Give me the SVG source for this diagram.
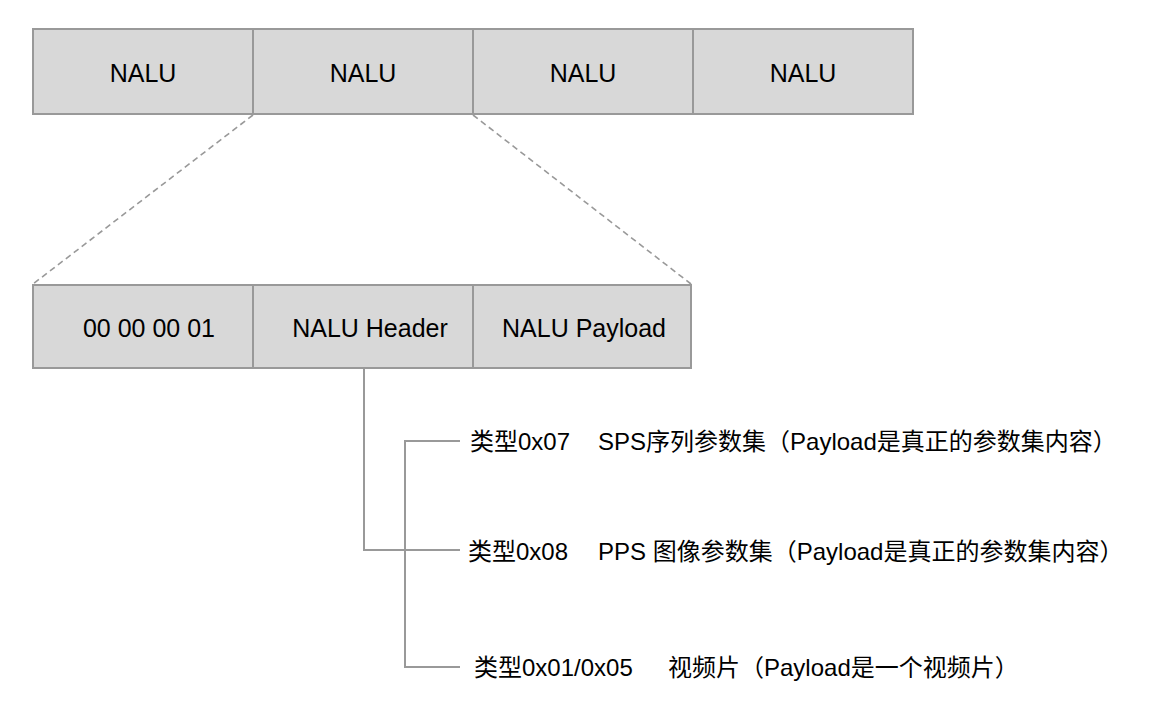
<svg xmlns="http://www.w3.org/2000/svg" width="1162" height="720" viewBox="0 0 1162 720">
<style>
.box{fill:#d8d8d8;stroke:#999;stroke-width:2}
.lbl{font-family:"Liberation Sans","Noto Sans CJK SC",sans-serif;font-size:25px;fill:#000}
.t{font-family:"Liberation Sans","Noto Sans CJK SC",sans-serif;font-size:24px;fill:#000}
.c{text-anchor:middle}
.dash{stroke:#999;stroke-width:1.6;stroke-dasharray:6 4;fill:none}
.wire{stroke:#999;stroke-width:2;fill:none}
</style>
<rect width="1162" height="720" fill="#fff"/>
<g id="connectors">
<line class="dash" x1="253" y1="115" x2="33" y2="284"/>
<line class="dash" x1="473" y1="115" x2="691" y2="284"/>
<polyline class="wire" points="364,369 364,550 460,550"/>
<polyline class="wire" points="460,441 405,441 405,667 460,667"/>
</g>
<g id="nalu1"><rect class="box" x="33" y="29" width="220" height="85"/><text class="lbl c" x="143" y="82">NALU</text></g>
<g id="nalu2"><rect class="box" x="253" y="29" width="220" height="85"/><text class="lbl c" x="363" y="82">NALU</text></g>
<g id="nalu3"><rect class="box" x="473" y="29" width="220" height="85"/><text class="lbl c" x="583" y="82">NALU</text></g>
<g id="nalu4"><rect class="box" x="693" y="29" width="220" height="85"/><text class="lbl c" x="803" y="82">NALU</text></g>
<g id="startcode"><rect class="box" x="33" y="285" width="220" height="83"/><text class="lbl c" x="149" y="337">00 00 00 01</text></g>
<g id="header"><rect class="box" x="253" y="285" width="220" height="83"/><text class="lbl c" x="370" y="337">NALU Header</text></g>
<g id="payload"><rect class="box" x="473" y="285" width="218" height="83"/><text class="lbl c" x="584" y="337">NALU Payload</text></g>
<g id="type07"><text class="t" x="470" y="450">类型0x07<tspan x="598">SPS序列参数集（Payload是真正的参数集内容）</tspan></text></g>
<g id="type08"><text class="t" x="468" y="560">类型0x08<tspan x="598">PPS 图像参数集（Payload是真正的参数集内容）</tspan></text></g>
<g id="type01"><text class="t" x="474" y="676">类型0x01/0x05<tspan x="668">视频片（Payload是一个视频片）</tspan></text></g>
</svg>
